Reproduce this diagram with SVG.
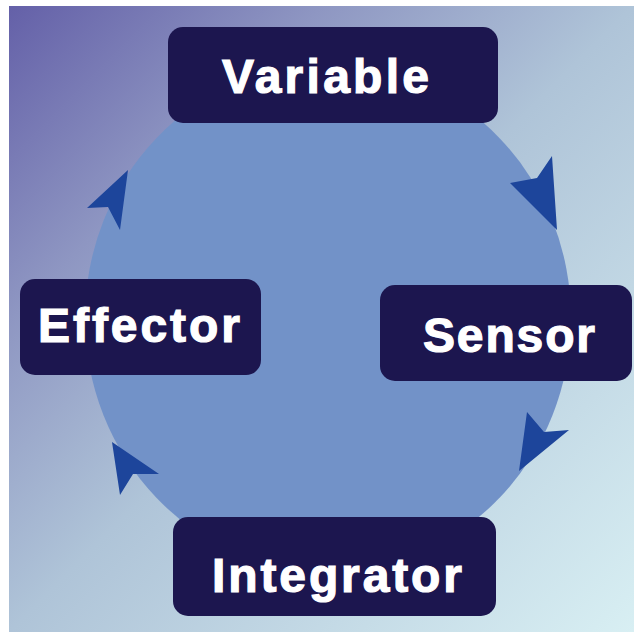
<svg xmlns="http://www.w3.org/2000/svg" width="634" height="632" viewBox="0 0 634 632">
<defs>
<linearGradient id="bg" x1="0" y1="0" x2="1" y2="1">
<stop offset="0" stop-color="#6460a8"/>
<stop offset="0.25" stop-color="#8e96c2"/>
<stop offset="0.5" stop-color="#afc4d8"/>
<stop offset="1" stop-color="#d8eff3"/>
</linearGradient>
<style>
.box{fill:#1c164f;}
.lbl{fill:#ffffff;stroke:#ffffff;stroke-width:1.2;font-family:"Liberation Sans",Arial,sans-serif;font-weight:bold;font-size:48px;}
.arr{fill:#1d459b;}
</style>
</defs>
<rect x="0" y="0" width="634" height="632" fill="#ffffff"/>
<rect x="9" y="6" width="625" height="626" fill="url(#bg)"/>
<ellipse cx="328" cy="318" rx="243" ry="254" fill="#7292c8"/>
<g id="connectors">
<path class="arr" d="M128,170 L87,208 L108,207 L120,230 Z"/>
<path class="arr" d="M557,230 L552,156 L537,178 L510,183 Z"/>
<path class="arr" d="M519,471 L569,430 L544,432 L527,412 Z"/>
<path class="arr" d="M112,442 L120,495 L133,474 L159,474 Z"/>
</g>
<g id="variable">
<rect class="box" x="168" y="27" width="330" height="96" rx="15"/>
<text class="lbl" x="222" y="93" textLength="207" lengthAdjust="spacing">Variable</text>
</g>
<g id="effector">
<rect class="box" x="20" y="279" width="241" height="96" rx="15"/>
<text class="lbl" x="38" y="342" textLength="202" lengthAdjust="spacing">Effector</text>
</g>
<g id="sensor">
<rect class="box" x="380" y="285" width="252" height="96" rx="15"/>
<text class="lbl" x="423" y="352" textLength="172" lengthAdjust="spacing">Sensor</text>
</g>
<g id="integrator">
<rect class="box" x="173" y="517" width="323" height="99" rx="15"/>
<text class="lbl" x="212" y="592" textLength="250" lengthAdjust="spacing">Integrator</text>
</g>
</svg>
